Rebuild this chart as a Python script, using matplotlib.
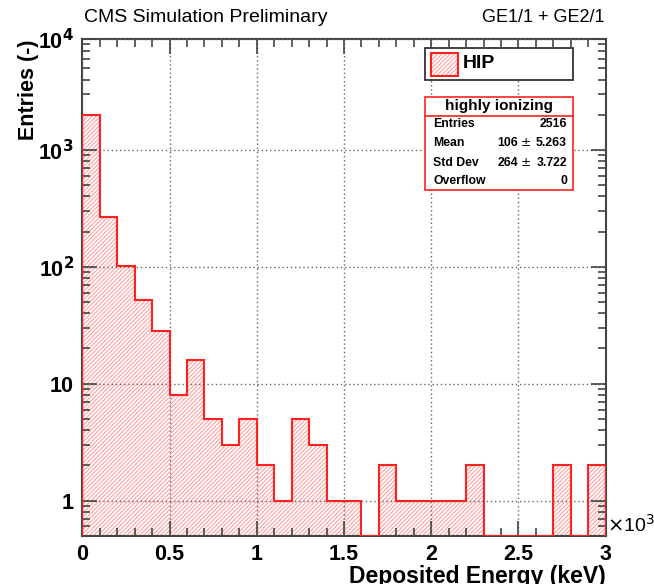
import numpy as np
import matplotlib
matplotlib.use("Agg")
import matplotlib.pyplot as plt
from matplotlib.patches import Rectangle
from matplotlib.lines import Line2D
from matplotlib.ticker import FixedLocator, NullFormatter, MultipleLocator

plt.rcParams['font.family'] = ['Liberation Sans', 'DejaVu Sans']
plt.rcParams['hatch.linewidth'] = 0.8

# histogram: deposited energy in units of 10^3 keV, bin width 0.1
bin_edges = np.round(np.arange(0, 3.01, 0.1), 2)
counts = [2004, 268, 102, 52, 28, 8, 16, 5, 3, 5,
          2, 1, 5, 3, 1, 1, 0, 2, 1, 1,
          1, 1, 2, 0, 0, 0, 0, 2, 0, 2]

stat_rows = ["Entries", "Mean", "Std Dev", "Overflow"]
stat_vals = ["2516", ("106", "5.263"), ("264", "3.722"), "0"]

ymin, ymax = 0.5, 8900
W, H = 654, 584

fig = plt.figure(figsize=(W / 100, H / 100), dpi=100)
ax = fig.add_axes([82.3 / W, 1 - 535.7 / H, 523.4 / W, (535.7 - 39) / H])

vals = np.maximum(np.array(counts, dtype=float), ymin)
red = '#ff2020'
hatch_col = '#ffa0a0'
hatch = '/' * 8
ax.stairs(vals, bin_edges, baseline=ymin, fill=True, facecolor='none',
          edgecolor=hatch_col, hatch=hatch, linewidth=0, zorder=2)
ax.stairs(vals, bin_edges, baseline=ymin, fill=False, edgecolor=red,
          linewidth=1.5, zorder=3)

ax.set_yscale('log')
ax.set_xlim(0, 3)
ax.set_ylim(ymin, ymax)

ax.xaxis.set_minor_locator(MultipleLocator(0.1))
ax.set_xticks(np.arange(0, 3.01, 0.5))
ax.set_xticklabels(['0', '0.5', '1', '1.5', '2', '2.5', '3'])

ax.yaxis.set_major_locator(FixedLocator([1, 10, 100, 1000, ymax]))
ax.set_yticklabels(['1', '10', r'10$^{\mathbf{2}}$', r'10$^{\mathbf{3}}$', r'10$^{\mathbf{4}}$'])
minor = [m * 10 ** e for e in range(-1, 4) for m in range(2, 10)]
ax.yaxis.set_minor_locator(FixedLocator([v for v in minor if ymin < v < ymax]))
ax.yaxis.set_minor_formatter(NullFormatter())

fc = '#444444'
for s in ax.spines.values():
    s.set_color(fc)
    s.set_linewidth(1.5)
ax.tick_params(which='both', direction='in', top=True, right=True, color=fc, width=1.2)
ax.tick_params(which='major', length=11)
ax.tick_params(which='minor', length=5.5)
ax.tick_params(axis='both', labelsize=15.5, pad=6)
for lab in ax.get_xticklabels() + ax.get_yticklabels():
    lab.set_fontweight('bold')

ax.grid(True, which='major', color='#666666', linestyle=(0, (1, 2)), linewidth=1.0, zorder=1)
ax.set_axisbelow(False)

ax.set_ylabel('Entries (-)', fontsize=15.5, fontweight='bold', loc='top', labelpad=-1)
ax.set_xlabel('Deposited Energy (keV)', fontsize=16.5, fontweight='bold', loc='right', labelpad=0)
ax.text(1.002, 0.0, r'$\times$10$^3$', transform=ax.transAxes, fontsize=14, va='bottom', ha='left')

fig.text(84 / W, 1 - 17 / H, 'CMS Simulation Preliminary', fontsize=14, va='center', ha='left')
fig.text(605 / W, 1 - 17 / H, 'GE1/1 + GE2/1', fontsize=13, va='center', ha='right')


def fx(x):
    return x / W


def fy(y):
    return 1 - y / H


# legend box
fig.patches.append(Rectangle((fx(425), fy(80)), (573 - 425) / W, 32 / H, transform=fig.transFigure,
                             facecolor='white', edgecolor='#333333', linewidth=1.3, zorder=5))
fig.patches.append(Rectangle((fx(431), fy(76)), 27 / W, 23 / H, transform=fig.transFigure,
                             facecolor='white', edgecolor=hatch_col, hatch=hatch, linewidth=0, zorder=6))
fig.patches.append(Rectangle((fx(431), fy(76)), 27 / W, 23 / H, transform=fig.transFigure,
                             facecolor='none', edgecolor=red, linewidth=1.5, zorder=7))
fig.text(fx(463), fy(64), 'HIP', fontsize=14, fontweight='bold', va='center', ha='left', zorder=8)

# stats box
fig.patches.append(Rectangle((fx(425), fy(190)), (573 - 425) / W, 93 / H, transform=fig.transFigure,
                             facecolor='white', edgecolor=red, linewidth=1.2, zorder=5))
fig.lines.append(Line2D([fx(425), fx(573)], [fy(116), fy(116)], transform=fig.transFigure,
                        color=red, linewidth=1.2, zorder=6))
fig.text(fx(499), fy(106), 'highly ionizing', fontsize=11, fontweight='bold', ha='center', va='center', zorder=8)
for i, (name, val) in enumerate(zip(stat_rows, stat_vals)):
    yy = fy(124.5 + i * 19)
    fig.text(fx(433), yy, name, fontsize=8.8, fontweight='bold', ha='left', va='center', zorder=8)
    if isinstance(val, tuple):
        fig.text(fx(518), yy, val[0], fontsize=8.8, fontweight='bold', ha='right', va='center', zorder=8)
        fig.text(fx(525), yy, r'$\pm$', fontsize=8.8, ha='center', va='center', zorder=8)
        fig.text(fx(567), yy, val[1], fontsize=8.8, fontweight='bold', ha='right', va='center', zorder=8)
    else:
        fig.text(fx(567), yy, val, fontsize=8.8, fontweight='bold', ha='right', va='center', zorder=8)

fig.savefig('out.png', dpi=100)
